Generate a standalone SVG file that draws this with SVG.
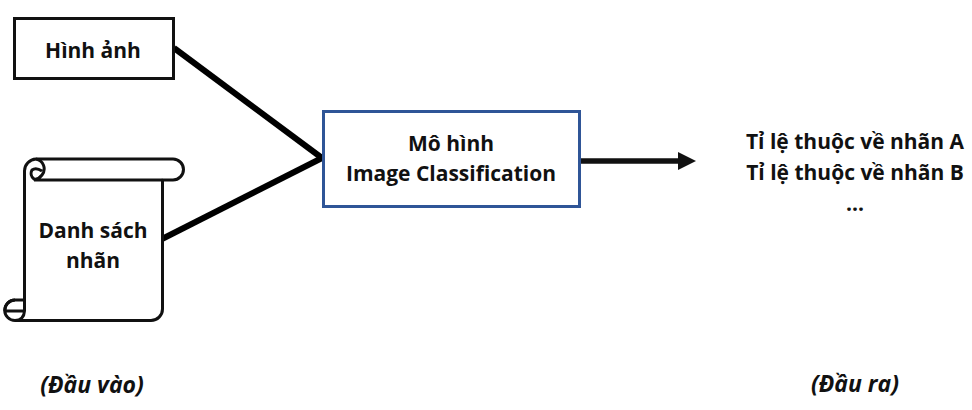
<svg xmlns="http://www.w3.org/2000/svg" width="972" height="410" viewBox="0 0 972 410">
<defs><style>
text{font-family:"Open Sans","Noto Sans","Liberation Sans",sans-serif;font-weight:700;font-size:21px;fill:#111;text-anchor:middle}
.it{font-style:italic;font-size:23px}
.sc{stroke:#111;stroke-width:3;stroke-linejoin:round}
</style>
<marker id="ah" markerUnits="userSpaceOnUse" markerWidth="18" markerHeight="20" refX="1" refY="10" orient="auto"><path d="M0 1L18 10L0 19Z" fill="#111"/></marker>
</defs>
<rect width="972" height="410" fill="#fff"/>
<g id="connectors" fill="none" stroke="#000">
<path d="M174 48L322 158" stroke-width="6"/>
<path d="M162 239L322 158" stroke-width="6"/>
<path d="M581 161H679" stroke="#111" stroke-width="5.500" marker-end="url(#ah)"/>
</g>
<g id="node-image"><rect x="14.500" y="18.500" width="159" height="60" fill="#fff" stroke="#111" stroke-width="3"/><text x="93" y="58">Hình ảnh</text></g>
<g id="node-labels">
<path class="sc" fill="#fff" d="M36 159H173A10.500 10.500 0 0 1 173 180H162.500V309A11.500 11.500 0 0 1 151 320.500H15A10 10 0 0 1 15 300H24.500V171A12 12 0 0 1 36 159Z"/>
<path class="sc" fill="none" d="M36 159A10 10 0 0 1 42 175Q38 180 34 179A7 7 0 0 1 32 170Q36 167 42 171M34 180H162.500M24.500 300V311H5M15 320.500Q24 320 24.500 311M15 300A10 10 0 0 0 5 311"/>
<text x="93" y="238">Danh sách</text><text x="93" y="268">nhãn</text></g>
<g id="node-model"><rect x="323.500" y="111.500" width="256" height="95" fill="#fff" stroke="#2f5597" stroke-width="3"/><text x="451" y="151">Mô hình</text><text x="451" y="181">Image Classification</text></g>
<g id="node-output"><text x="855" y="149">Tỉ lệ thuộc về nhãn A</text><text x="855" y="180">Tỉ lệ thuộc về nhãn B</text><text x="855" y="211">...</text></g>
<text class="it" x="92" y="393">(Đầu vào)</text>
<text class="it" x="855" y="392">(Đầu ra)</text>
</svg>
